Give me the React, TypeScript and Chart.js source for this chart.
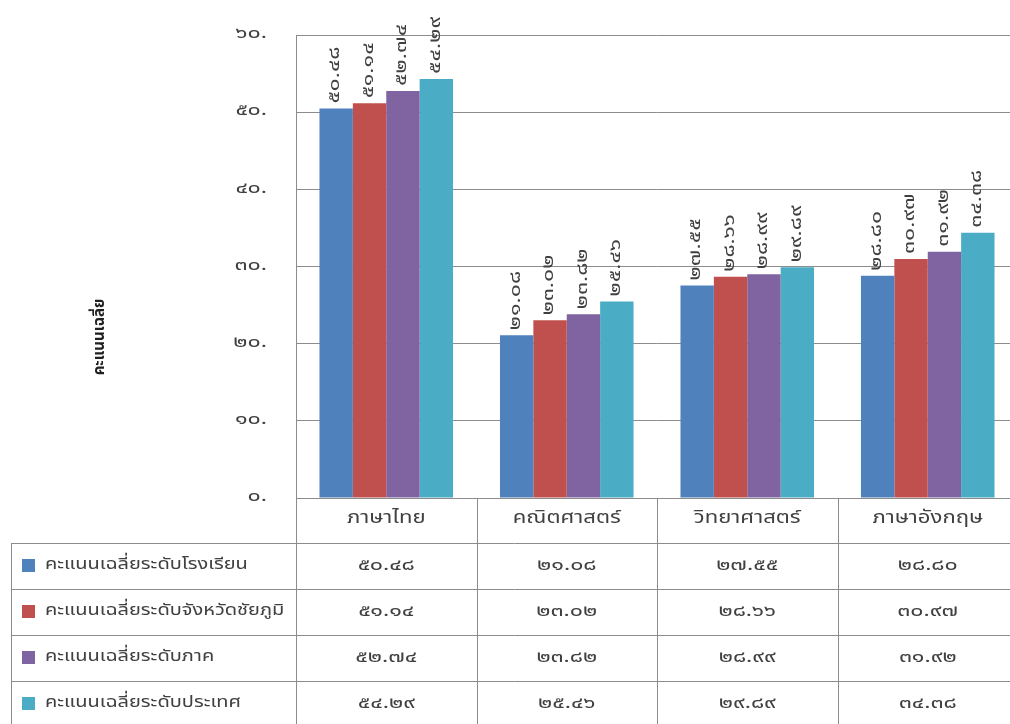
import React, { useEffect, useRef } from "react";
import { Chart, registerables } from "chart.js";

Chart.register(...registerables);

const categories = ["ภาษาไทย", "คณิตศาสตร์", "วิทยาศาสตร์", "ภาษาอังกฤษ"];
const seriesNames = [
  "คะแนนเฉลี่ยระดับโรงเรียน",
  "คะแนนเฉลี่ยระดับจังหวัดชัยภูมิ",
  "คะแนนเฉลี่ยระดับภาค",
  "คะแนนเฉลี่ยระดับประเทศ",
];
const schoolValues = [50.48, 21.08, 27.55, 28.8];
const provinceValues = [51.14, 23.02, 28.66, 30.97];
const regionValues = [52.74, 23.82, 28.99, 31.92];
const countryValues = [54.29, 25.46, 29.89, 34.38];
const seriesColors = ["#4F81BD", "#C0504D", "#8064A2", "#4BACC6"];
const yTicks = [0, 10, 20, 30, 40, 50, 60];
const yTitle = "คะแนนเฉลี่ย";

const FONT = "Tahoma, 'Noto Sans Thai', 'Noto Sans', sans-serif";
const TEXT = "#404040";
const LINE = "#8C8C8C";

const thaiDigits = (s: string) =>
  s.replace(/[0-9]/g, (d) => String.fromCharCode(0x0e50 + Number(d)));

const seriesValues = [schoolValues, provinceValues, regionValues, countryValues];

// draw text horizontally stretched by sx (in the text's own direction)
const stretched = (ctx: any, text: string, x: number, y: number, align: string, sx: number, rot = 0) => {
  ctx.save();
  ctx.translate(x, y);
  if (rot) ctx.rotate(rot);
  ctx.scale(sx, 1);
  ctx.textAlign = align;
  ctx.textBaseline = "middle";
  ctx.fillText(text, 0, 0);
  ctx.restore();
};

const labelsPlugin = {
  id: "barLabels",
  afterDatasetsDraw(chart: any) {
    const ctx = chart.ctx;
    ctx.save();
    ctx.fillStyle = TEXT;
    ctx.font = `16px ${FONT}`;
    chart.data.datasets.forEach((ds: any, di: number) => {
      const meta = chart.getDatasetMeta(di);
      meta.data.forEach((bar: any, i: number) => {
        const txt = thaiDigits(Number(ds.data[i]).toFixed(2));
        stretched(ctx, txt, bar.x, bar.y - 5, "left", 1.45, -Math.PI / 2);
      });
    });
    ctx.restore();
  },
};

const tablePlugin = {
  id: "dataTable",
  afterDraw(chart: any) {
    const ctx = chart.ctx;
    const area = chart.chartArea;
    const x = chart.scales.x;
    const y = chart.scales.y;
    const left = area.left;
    const right = area.right;
    const n = categories.length;
    const colW = (right - left) / n;
    const catTop = area.bottom;
    const rowTop = catTop + 45;
    const rowH = 46;
    const tableLeft = 11;
    const bottom = chart.height;
    ctx.save();
    ctx.strokeStyle = LINE;
    ctx.lineWidth = 1;
    const hl = (x1: number, x2: number, yy: number) => {
      ctx.beginPath();
      ctx.moveTo(x1, Math.round(yy) + 0.5);
      ctx.lineTo(x2, Math.round(yy) + 0.5);
      ctx.stroke();
    };
    const vl = (xx: number, y1: number, y2: number) => {
      ctx.beginPath();
      ctx.moveTo(Math.round(xx) + 0.5, y1);
      ctx.lineTo(Math.round(xx) + 0.5, y2);
      ctx.stroke();
    };
    vl(left, catTop, bottom);
    for (let i = 1; i <= n; i++) vl(left + colW * i, catTop, bottom);
    vl(tableLeft, rowTop, bottom);
    for (let r = 0; r < seriesNames.length; r++) hl(tableLeft, right, rowTop + rowH * r);

    ctx.fillStyle = TEXT;
    // y tick labels
    ctx.font = `16px ${FONT}`;
    yTicks.forEach((v) => {
      stretched(ctx, thaiDigits(String(v)) + ".", left - 29, y.getPixelForValue(v), "right", 1.45);
    });
    // category labels
    ctx.font = `17px ${FONT}`;
    categories.forEach((c, i) => {
      stretched(ctx, c, x.getPixelForValue(i), catTop + 22, "center", 1.3);
    });
    seriesNames.forEach((name, r) => {
      const cy = rowTop + rowH * r + rowH / 2;
      ctx.fillStyle = seriesColors[r];
      ctx.fillRect(tableLeft + 11, cy - 7, 13, 13);
      ctx.fillStyle = TEXT;
      ctx.font = `16px ${FONT}`;
      stretched(ctx, name, tableLeft + 34, cy, "left", 1.25);
      seriesValues[r].forEach((v, i) => {
        stretched(ctx, thaiDigits(v.toFixed(2)), x.getPixelForValue(i), cy + 1, "center", 1.45);
      });
    });

    ctx.save();
    ctx.translate(101, 337);
    ctx.rotate(-Math.PI / 2);
    ctx.font = `bold 15px ${FONT}`;
    ctx.fillStyle = "#202020";
    ctx.textAlign = "center";
    ctx.textBaseline = "middle";
    ctx.fillText(yTitle, 0, 0);
    ctx.restore();
    ctx.restore();
  },
};

export default function App() {
  const ref = useRef<HTMLCanvasElement>(null);
  useEffect(() => {
    document.body.style.margin = "0";
    const chart = new Chart(ref.current!, {
      type: "bar",
      data: {
        labels: categories,
        datasets: seriesNames.map((name, i) => ({
          label: name,
          data: seriesValues[i],
          backgroundColor: seriesColors[i],
          borderWidth: 0,
          categoryPercentage: 0.74,
          barPercentage: 1.0,
        })),
      },
      options: {
        animation: false,
        responsive: false,
        devicePixelRatio: 1,
        layout: { padding: { top: 35, bottom: 226, right: 2, left: 0 } },
        plugins: {
          legend: { display: false },
          tooltip: { enabled: false },
        },
        scales: {
          x: { display: false },
          y: {
            min: 0,
            max: 60,
            afterFit: (s: any) => {
              s.width = 296;
            },
            afterBuildTicks: (s: any) => {
              s.ticks = yTicks.map((v) => ({ value: v }));
            },
            border: { display: true, color: LINE, width: 1 },
            grid: { color: LINE, lineWidth: 1, drawTicks: false },
            ticks: { display: false },
          },
        },
      },
      plugins: [labelsPlugin, tablePlugin],
    });
    return () => chart.destroy();
  }, []);
  return (
    <div style={{ position: "absolute", left: 0, top: 0, width: 1010, height: 724, overflow: "hidden", background: "#fff" }}>
      <canvas ref={ref} width={1020} height={724} style={{ display: "block" }} />
    </div>
  );
}
